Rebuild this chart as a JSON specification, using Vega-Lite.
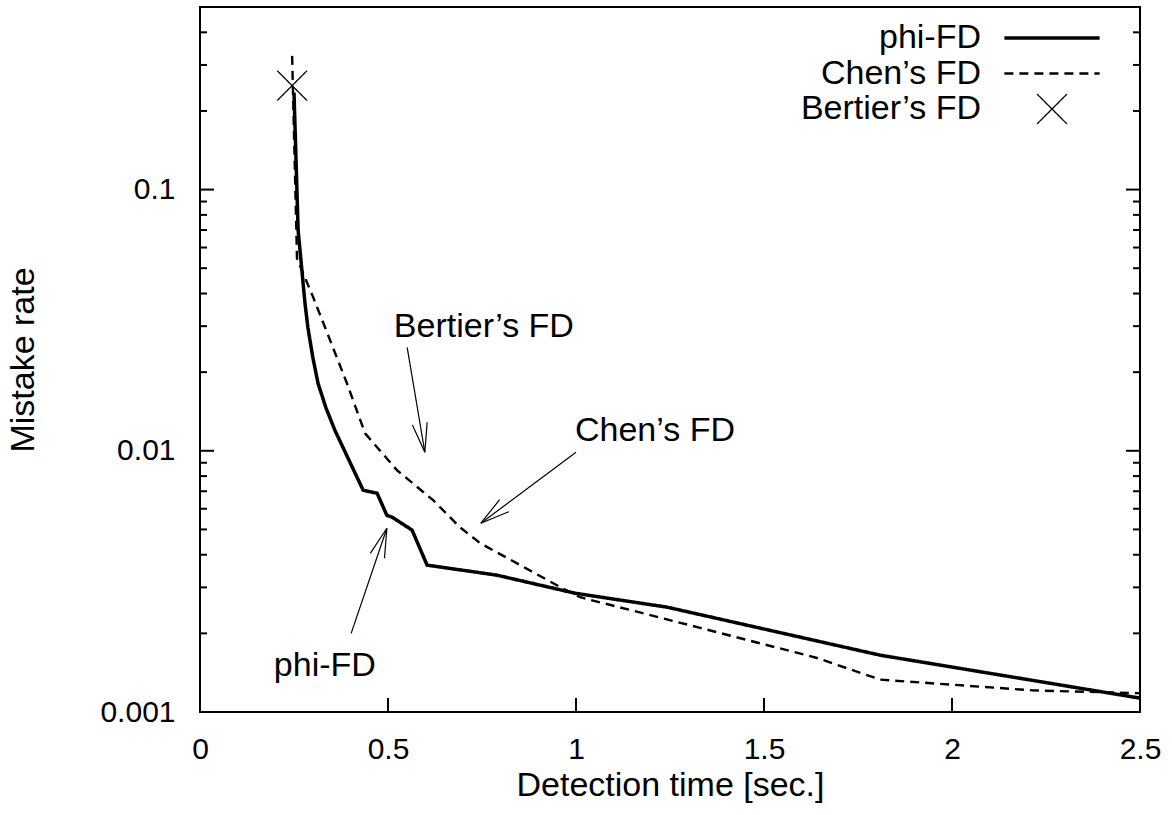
{
  "$schema": "https://vega.github.io/schema/vega-lite/v6.json",
  "width": 940,
  "height": 705,
  "autosize": {"type": "none"},
  "padding": {"left": 200, "top": 7, "right": 32, "bottom": 103},
  "background": "white",
  "config": {
    "view": {"stroke": "black", "strokeWidth": 2},
    "font": "Liberation Sans",
    "axis": {
      "labelFont": "Liberation Sans", "labelFontSize": 30, "labelColor": "black",
      "titleFont": "Liberation Sans", "titleFontSize": 34, "titleFontWeight": "normal", "titleColor": "black",
      "ticks": false, "domain": false, "grid": false, "labelFlush": false, "labelOverlap": false
    },
    "legend": {
      "orient": "none", "legendX": 833, "legendY": 12,
      "labelAlign": "right", "labelOffset": -90,
      "labelFont": "Liberation Sans", "labelFontSize": 34, "labelColor": "black", "labelLimit": 0,
      "symbolSize": 1156, "rowPadding": -3, "padding": 0,
      "symbolStrokeColor": "black", "symbolFillColor": "transparent"
    },
    "text": {"font": "Liberation Sans", "fontSize": 34}
  },
  "datasets": {
    "curves": [
      {"series": "phi-FD", "t": 0.250, "rate": 0.235},
      {"series": "phi-FD", "t": 0.261, "rate": 0.0697},
      {"series": "phi-FD", "t": 0.271, "rate": 0.0490},
      {"series": "phi-FD", "t": 0.279, "rate": 0.0370},
      {"series": "phi-FD", "t": 0.287, "rate": 0.0296},
      {"series": "phi-FD", "t": 0.300, "rate": 0.0228},
      {"series": "phi-FD", "t": 0.314, "rate": 0.0181},
      {"series": "phi-FD", "t": 0.335, "rate": 0.0146},
      {"series": "phi-FD", "t": 0.359, "rate": 0.01196},
      {"series": "phi-FD", "t": 0.434, "rate": 0.00706},
      {"series": "phi-FD", "t": 0.471, "rate": 0.00688},
      {"series": "phi-FD", "t": 0.497, "rate": 0.00566},
      {"series": "phi-FD", "t": 0.511, "rate": 0.00557},
      {"series": "phi-FD", "t": 0.564, "rate": 0.00497},
      {"series": "phi-FD", "t": 0.604, "rate": 0.00365},
      {"series": "phi-FD", "t": 0.790, "rate": 0.00334},
      {"series": "phi-FD", "t": 0.997, "rate": 0.00285},
      {"series": "phi-FD", "t": 1.242, "rate": 0.00252},
      {"series": "phi-FD", "t": 1.809, "rate": 0.00165},
      {"series": "phi-FD", "t": 2.5, "rate": 0.00113},
      {"series": "Chen’s FD", "t": 0.245, "rate": 0.325},
      {"series": "Chen’s FD", "t": 0.258, "rate": 0.0544},
      {"series": "Chen’s FD", "t": 0.301, "rate": 0.0387},
      {"series": "Chen’s FD", "t": 0.346, "rate": 0.0265},
      {"series": "Chen’s FD", "t": 0.391, "rate": 0.0181},
      {"series": "Chen’s FD", "t": 0.439, "rate": 0.01167},
      {"series": "Chen’s FD", "t": 0.524, "rate": 0.00842},
      {"series": "Chen’s FD", "t": 0.620, "rate": 0.00647},
      {"series": "Chen’s FD", "t": 0.691, "rate": 0.00510},
      {"series": "Chen’s FD", "t": 0.745, "rate": 0.00443},
      {"series": "Chen’s FD", "t": 0.963, "rate": 0.00298},
      {"series": "Chen’s FD", "t": 1.011, "rate": 0.00275},
      {"series": "Chen’s FD", "t": 1.330, "rate": 0.00210},
      {"series": "Chen’s FD", "t": 1.641, "rate": 0.00161},
      {"series": "Chen’s FD", "t": 1.809, "rate": 0.00133},
      {"series": "Chen’s FD", "t": 2.215, "rate": 0.00121},
      {"series": "Chen’s FD", "t": 2.5, "rate": 0.00118}
    ],
    "bertier": [
      {"series": "Bertier’s FD", "t": 0.245, "rate": 0.25}
    ],
    "notes": [
      {"label": "Bertier’s FD", "t": 0.755, "rate": 0.0299},
      {"label": "Chen’s FD", "t": 1.210, "rate": 0.01188},
      {"label": "phi-FD", "t": 0.332, "rate": 0.00150}
    ],
    "arrows": [
      {"name": "Bertier", "t": 0.551, "rate": 0.0249, "t2": 0.598, "rate2": 0.00987},
      {"name": "Chen", "t": 1.0, "rate": 0.00987, "t2": 0.747, "rate2": 0.00528},
      {"name": "phi", "t": 0.402, "rate": 0.00200, "t2": 0.497, "rate2": 0.00505}
    ],
    "yMajor": [{"v": 0.001}, {"v": 0.01}, {"v": 0.1}],
    "yMinor": [
      {"v": 0.002}, {"v": 0.003}, {"v": 0.004}, {"v": 0.005}, {"v": 0.006}, {"v": 0.007}, {"v": 0.008}, {"v": 0.009},
      {"v": 0.02}, {"v": 0.03}, {"v": 0.04}, {"v": 0.05}, {"v": 0.06}, {"v": 0.07}, {"v": 0.08}, {"v": 0.09},
      {"v": 0.2}, {"v": 0.3}, {"v": 0.4}
    ],
    "xMajor": [{"v": 0}, {"v": 0.5}, {"v": 1}, {"v": 1.5}, {"v": 2}, {"v": 2.5}]
  },
  "layer": [
    {
      "data": {"name": "yMajor"},
      "mark": {"type": "tick", "orient": "horizontal", "size": 28, "thickness": 2, "color": "black", "clip": true, "opacity": 1},
      "encoding": {
        "x": {"datum": 0, "type": "quantitative", "scale": {"domain": [0, 2.5], "nice": false}},
        "y": {"field": "v", "type": "quantitative", "scale": {"type": "log", "domain": [0.001, 0.5], "nice": false}}
      }
    },
    {
      "data": {"name": "yMajor"},
      "mark": {"type": "tick", "orient": "horizontal", "size": 28, "thickness": 2, "color": "black", "clip": true, "opacity": 1},
      "encoding": {
        "x": {"datum": 2.5, "type": "quantitative"},
        "y": {"field": "v", "type": "quantitative"}
      }
    },
    {
      "data": {"name": "yMinor"},
      "mark": {"type": "tick", "orient": "horizontal", "size": 14, "thickness": 2, "color": "black", "clip": true, "opacity": 1},
      "encoding": {
        "x": {"datum": 0, "type": "quantitative"},
        "y": {"field": "v", "type": "quantitative"}
      }
    },
    {
      "data": {"name": "yMinor"},
      "mark": {"type": "tick", "orient": "horizontal", "size": 14, "thickness": 2, "color": "black", "clip": true, "opacity": 1},
      "encoding": {
        "x": {"datum": 2.5, "type": "quantitative"},
        "y": {"field": "v", "type": "quantitative"}
      }
    },
    {
      "data": {"name": "xMajor"},
      "mark": {"type": "tick", "orient": "vertical", "size": 28, "thickness": 2, "color": "black", "clip": true, "opacity": 1},
      "encoding": {
        "x": {"field": "v", "type": "quantitative"},
        "y": {"datum": 0.001, "type": "quantitative"}
      }
    },
    {
      "data": {"name": "curves"},
      "mark": {"type": "line", "color": "black", "clip": true},
      "encoding": {
        "x": {
          "field": "t", "type": "quantitative",
          "scale": {"domain": [0, 2.5], "nice": false},
          "axis": {"values": [0, 0.5, 1, 1.5, 2, 2.5], "format": "~g", "labelPadding": 22, "titlePadding": 4},
          "title": "Detection time [sec.]"
        },
        "y": {
          "field": "rate", "type": "quantitative",
          "scale": {"type": "log", "domain": [0.001, 0.5], "nice": false},
          "axis": {"values": [0.001, 0.01, 0.1], "format": "~g", "labelPadding": 25, "titlePadding": 59},
          "title": "Mistake rate"
        },
        "strokeDash": {
          "field": "series", "type": "nominal",
          "scale": {"domain": ["phi-FD", "Chen’s FD", "Bertier’s FD"], "range": [[1, 0], [9, 6], [1, 0]]},
          "legend": {"title": null}
        },
        "strokeWidth": {
          "field": "series", "type": "nominal",
          "scale": {"domain": ["phi-FD", "Chen’s FD", "Bertier’s FD"], "range": [3.5, 1.3, 1.3]},
          "legend": {"title": null}
        }
      }
    },
    {
      "data": {"name": "bertier"},
      "mark": {"type": "point", "filled": false, "size": 1156, "color": "black", "opacity": 1},
      "encoding": {
        "x": {"field": "t", "type": "quantitative"},
        "y": {"field": "rate", "type": "quantitative"},
        "shape": {
          "field": "series", "type": "nominal",
          "scale": {"domain": ["phi-FD", "Chen’s FD", "Bertier’s FD"], "range": ["M-2.8,0L2.8,0", "M-2.8,0L2.8,0", "M-0.88,-0.88L0.88,0.88M0.88,-0.88L-0.88,0.88"]},
          "legend": {"title": null}
        },
        "strokeDash": {"field": "series", "type": "nominal"},
        "strokeWidth": {"field": "series", "type": "nominal"}
      }
    },
    {
      "data": {"name": "notes"},
      "mark": {"type": "text", "align": "center", "baseline": "middle", "fontSize": 34, "font": "Liberation Sans", "color": "black"},
      "encoding": {
        "x": {"field": "t", "type": "quantitative"},
        "y": {"field": "rate", "type": "quantitative"},
        "text": {"field": "label"}
      }
    },
    {
      "data": {"name": "arrows"},
      "mark": {"type": "rule", "color": "black", "strokeWidth": 1.2},
      "encoding": {
        "x": {"field": "t", "type": "quantitative"},
        "y": {"field": "rate", "type": "quantitative"},
        "x2": {"field": "t2"},
        "y2": {"field": "rate2"}
      }
    },
    {
      "data": {"name": "arrows"},
      "transform": [{"filter": "datum.name === 'Bertier'"}],
      "mark": {"type": "point", "shape": "M-0.25,0.97L0,0L0.25,0.97", "filled": false, "size": 3600, "color": "black", "strokeWidth": 1.2, "angle": 170, "opacity": 1},
      "encoding": {
        "x": {"field": "t2", "type": "quantitative"},
        "y": {"field": "rate2", "type": "quantitative"}
      }
    },
    {
      "data": {"name": "arrows"},
      "transform": [{"filter": "datum.name === 'Chen'"}],
      "mark": {"type": "point", "shape": "M-0.25,0.97L0,0L0.25,0.97", "filled": false, "size": 3600, "color": "black", "strokeWidth": 1.2, "angle": 233, "opacity": 1},
      "encoding": {
        "x": {"field": "t2", "type": "quantitative"},
        "y": {"field": "rate2", "type": "quantitative"}
      }
    },
    {
      "data": {"name": "arrows"},
      "transform": [{"filter": "datum.name === 'phi'"}],
      "mark": {"type": "point", "shape": "M-0.25,0.97L0,0L0.25,0.97", "filled": false, "size": 3600, "color": "black", "strokeWidth": 1.2, "angle": 19, "opacity": 1},
      "encoding": {
        "x": {"field": "t2", "type": "quantitative"},
        "y": {"field": "rate2", "type": "quantitative"}
      }
    }
  ]
}
